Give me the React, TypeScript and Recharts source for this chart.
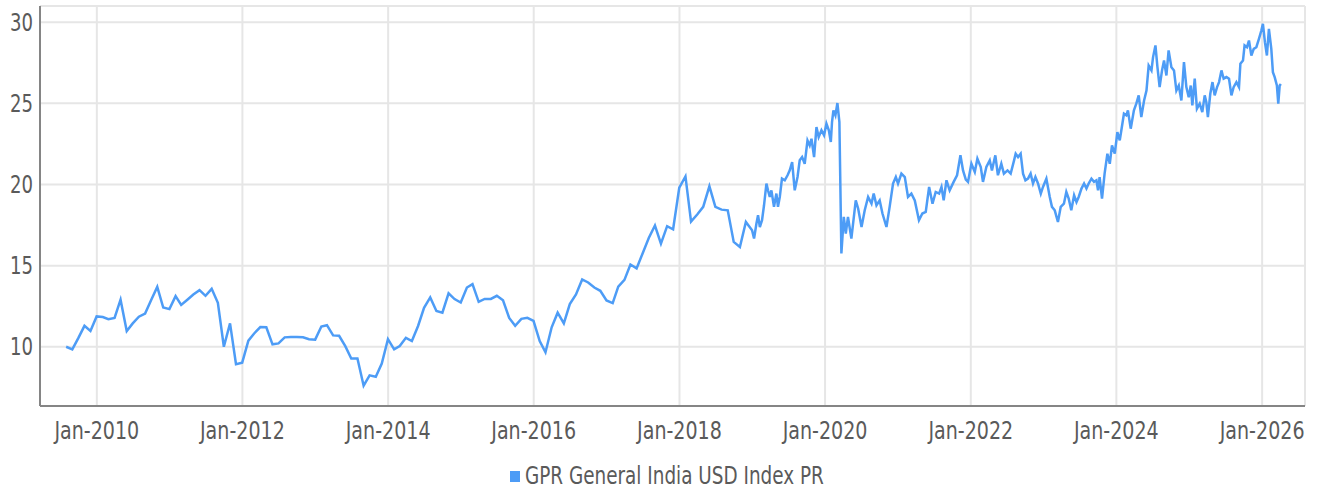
import React from "react";
import { LineChart, Line, XAxis, YAxis, CartesianGrid, Legend } from "recharts";

const SERIES_NAME = "GPR General India USD Index PR";

const monthlyDates = [
  "2009-07", "2009-08", "2009-09", "2009-10", "2009-11", "2009-12",
  "2010-01", "2010-02", "2010-03", "2010-04", "2010-05", "2010-06", "2010-07", "2010-08", "2010-09", "2010-10", "2010-11", "2010-12",
  "2011-01", "2011-02", "2011-03", "2011-04", "2011-05", "2011-06", "2011-07", "2011-08", "2011-09", "2011-10", "2011-11", "2011-12",
  "2012-01", "2012-02", "2012-03", "2012-04", "2012-05", "2012-06", "2012-07", "2012-08", "2012-09", "2012-10", "2012-11", "2012-12",
  "2013-01", "2013-02", "2013-03", "2013-04", "2013-05", "2013-06", "2013-07", "2013-08", "2013-09", "2013-10", "2013-11", "2013-12",
  "2014-01", "2014-02", "2014-03", "2014-04", "2014-05", "2014-06", "2014-07", "2014-08", "2014-09", "2014-10", "2014-11", "2014-12",
  "2015-01", "2015-02", "2015-03", "2015-04", "2015-05", "2015-06", "2015-07", "2015-08", "2015-09", "2015-10", "2015-11", "2015-12",
  "2016-01", "2016-02", "2016-03", "2016-04", "2016-05", "2016-06", "2016-07", "2016-08", "2016-09", "2016-10", "2016-11", "2016-12",
  "2017-01", "2017-02", "2017-03", "2017-04", "2017-05", "2017-06", "2017-07", "2017-08", "2017-09", "2017-10", "2017-11", "2017-12",
  "2018-01", "2018-02", "2018-03", "2018-04", "2018-05", "2018-06", "2018-07", "2018-08", "2018-09", "2018-10", "2018-11", "2018-12",
];

const monthlyValues = [
  10.0, 9.84, 10.53, 11.29, 10.97, 11.87,
  11.83, 11.7, 11.78, 12.9, 10.97, 11.44, 11.85, 12.05, 12.87, 13.69, 12.42, 12.32,
  13.12, 12.58, 12.9, 13.22, 13.49, 13.14, 13.57, 12.71, 10.0, 11.44, 8.93, 9.02,
  10.38, 10.82, 11.21, 11.2, 10.15, 10.21, 10.58, 10.6, 10.6, 10.58, 10.46, 10.44,
  11.25, 11.33, 10.7, 10.68, 10.04, 9.28, 9.28, 7.6, 8.24, 8.15, 8.97, 10.47,
  9.84, 10.04, 10.55, 10.35, 11.28, 12.4, 13.04, 12.2, 12.1, 13.29, 12.94, 12.73,
  13.65, 13.86, 12.77, 12.95, 12.95, 13.14, 12.86, 11.78, 11.29, 11.72, 11.78, 11.6,
  10.35, 9.66, 11.2, 12.1, 11.44, 12.63, 13.22, 14.15, 13.96, 13.65, 13.45, 12.85,
  12.69, 13.71, 14.12, 15.07, 14.83, 15.75, 16.7, 17.47, 16.36, 17.43, 17.24, 19.81,
  20.5, 17.71, 18.15, 18.62, 19.89, 18.62, 18.45, 18.41, 16.46, 16.15, 17.69, 17.18,
];

const dailyDates = [
  "2019-01-10", "2019-01-22", "2019-01-30", "2019-02-08", "2019-02-19", "2019-03-01", "2019-03-13", "2019-03-21",
  "2019-03-30", "2019-04-07", "2019-04-20", "2019-05-02", "2019-05-10", "2019-05-19", "2019-05-30", "2019-06-13",
  "2019-06-27", "2019-07-08", "2019-07-20", "2019-08-02", "2019-08-16", "2019-08-27", "2019-09-08", "2019-09-21",
  "2019-10-05", "2019-10-16", "2019-10-25", "2019-11-07", "2019-11-19", "2019-11-30", "2019-12-14", "2019-12-27",
  "2020-01-08", "2020-01-20", "2020-01-30", "2020-02-05", "2020-02-12", "2020-02-22", "2020-03-03", "2020-03-13",
  "2020-03-23", "2020-04-04", "2020-04-14", "2020-04-25", "2020-05-12", "2020-06-03", "2020-06-15", "2020-07-02",
  "2020-07-18", "2020-08-04", "2020-08-21", "2020-09-01", "2020-09-15", "2020-10-01", "2020-10-15", "2020-11-04",
  "2020-11-20", "2020-12-07", "2020-12-21",
  "2021-01-01", "2021-01-18", "2021-02-04", "2021-02-20", "2021-03-09", "2021-03-26", "2021-04-16", "2021-05-03",
  "2021-05-20", "2021-06-06", "2021-06-23", "2021-07-09", "2021-07-26", "2021-08-07", "2021-08-18", "2021-09-01",
  "2021-09-17", "2021-10-07", "2021-10-24", "2021-11-10", "2021-11-23", "2021-12-07", "2021-12-18",
  "2022-01-04", "2022-01-21", "2022-02-03", "2022-02-20", "2022-03-03", "2022-03-20", "2022-04-06", "2022-04-17",
  "2022-05-04", "2022-05-17", "2022-06-03", "2022-06-16", "2022-07-04", "2022-07-20", "2022-08-06", "2022-08-14",
  "2022-08-26", "2022-09-08", "2022-09-20", "2022-10-02", "2022-10-15", "2022-10-28", "2022-11-09", "2022-11-21",
  "2022-12-04", "2022-12-18", "2022-12-29",
  "2023-01-15", "2023-02-01", "2023-02-12", "2023-02-26", "2023-03-14", "2023-03-28", "2023-04-13", "2023-04-25",
  "2023-05-07", "2023-05-20", "2023-06-03", "2023-06-15", "2023-06-26", "2023-07-10", "2023-07-23", "2023-08-04",
  "2023-08-15", "2023-08-29", "2023-09-11", "2023-09-23", "2023-10-01", "2023-10-09", "2023-10-21", "2023-11-03",
  "2023-11-17", "2023-11-29", "2023-12-10", "2023-12-24",
  "2024-01-06", "2024-01-18", "2024-01-26", "2024-02-08", "2024-02-20", "2024-02-28", "2024-03-13", "2024-03-29",
  "2024-04-10", "2024-04-22", "2024-05-05", "2024-05-19", "2024-05-31", "2024-06-11", "2024-06-25", "2024-07-03",
  "2024-07-15", "2024-07-25", "2024-08-05", "2024-08-17", "2024-08-27", "2024-09-08", "2024-09-19", "2024-10-03",
  "2024-10-16", "2024-10-28", "2024-11-09", "2024-11-22", "2024-12-05", "2024-12-17", "2024-12-29",
  "2025-01-08", "2025-01-16", "2025-01-28", "2025-02-08", "2025-02-22", "2025-03-07", "2025-03-19", "2025-03-27",
  "2025-04-04", "2025-04-16", "2025-04-27", "2025-05-08", "2025-05-20", "2025-05-30", "2025-06-11", "2025-06-22",
  "2025-07-06", "2025-07-19", "2025-07-31", "2025-08-11", "2025-08-25", "2025-09-07", "2025-09-14", "2025-09-27",
  "2025-10-05", "2025-10-17", "2025-10-27", "2025-11-08", "2025-11-20", "2025-12-03", "2025-12-16", "2025-12-28",
  "2026-01-05", "2026-01-15", "2026-01-25", "2026-02-04", "2026-02-16", "2026-02-24", "2026-03-05", "2026-03-16",
  "2026-03-23", "2026-03-30", "2026-04-05",
];

const dailyValues = [
  16.67, 17.6, 18.11, 17.38, 17.8, 18.72, 20.06, 19.64,
  19.23, 19.64, 18.62, 19.44, 18.62, 19.23, 20.36, 20.26,
  20.57, 20.87, 21.38, 19.64, 20.46, 21.49, 21.69, 21.28,
  22.72, 22.41, 22.82, 21.69, 23.54, 22.92, 23.34, 23.03,
  23.75, 23.34, 22.62, 23.85, 24.57, 24.26, 25.02, 23.85,
  15.75, 18.0, 16.98, 18.0, 16.67, 19.02, 18.52, 17.38,
  18.41, 19.23, 18.82, 19.44, 18.72, 19.02, 18.21, 17.38,
  18.62, 20.06, 20.46,
  20.06, 20.67, 20.46, 19.23, 19.44, 19.02, 17.8, 18.21,
  18.31, 19.85, 18.82, 19.54, 19.44, 19.85, 19.02, 20.26,
  19.64, 20.16, 20.57, 21.8, 20.87, 20.3, 20.16,
  21.28, 20.77, 21.59, 21.08, 20.16, 21.08, 21.49, 20.87,
  21.8, 20.57, 21.28, 20.67, 20.87, 20.67, 21.49, 21.9,
  21.69, 21.9, 20.67, 20.26, 20.36, 20.67, 20.06, 20.46,
  20.06, 19.44, 19.85,
  20.36, 19.23, 18.62, 18.41, 17.69, 18.62, 18.82, 19.54,
  19.13, 18.41, 19.33, 18.92, 19.23, 19.75, 20.06, 19.75,
  20.06, 20.36, 20.16, 20.26, 19.64, 20.46, 19.13, 20.67,
  21.9, 21.28, 22.41, 21.9,
  23.23, 22.72, 23.34, 24.36, 24.26, 24.57, 23.44, 24.57,
  24.98, 25.49, 24.15, 25.18, 25.79, 27.33, 27.03, 27.85,
  28.57, 27.23, 26.0, 27.03, 27.64, 26.72, 28.26, 27.23,
  27.03, 25.79, 26.1, 25.18, 27.54, 26.0, 25.38,
  26.1, 24.87, 26.52, 24.67, 24.98, 24.46, 25.49, 25.08,
  24.15, 25.59, 26.31, 25.49, 26.0, 26.31, 27.03, 26.52,
  26.62, 26.52, 25.49, 26.0, 26.31, 26.0, 27.44, 27.64,
  28.57, 28.46, 28.87, 27.95, 28.36, 28.46, 28.98, 29.49,
  29.9, 28.77, 27.95, 29.59, 28.36, 26.92, 26.62, 26.1,
  24.98, 26.1, 26.2,
];

const tickYears = [2010, 2012, 2014, 2016, 2018, 2020, 2022, 2024, 2026];
const yTicks = [10, 15, 20, 25, 30];

const monthEnd = (s: string) => {
  const [y, m] = s.split("-").map(Number);
  return Date.UTC(y, m, 0);
};
const dayTs = (s: string) => {
  const [y, m, d] = s.split("-").map(Number);
  return Date.UTC(y, m - 1, d);
};

const data = [
  ...monthlyDates.map((d, i) => ({ t: monthEnd(d), v: monthlyValues[i] })),
  ...dailyDates.map((d, i) => ({ t: dayTs(d), v: dailyValues[i] })),
];

const xTicks = tickYears.map((y) => Date.UTC(y, 0, 1));
const xDomain = [Date.UTC(2009, 2, 22), Date.UTC(2026, 7, 4)];

const FONT = "'Liberation Sans Narrow', 'DejaVu Sans Condensed', 'Roboto', sans-serif";
const BLUE = "#4d9cf6";
const TEXT = "#5a5a5a";

const fmtX = (t: number) => `Jan-${new Date(t).getUTCFullYear()}`;

const XTick = (props: any) => {
  const { x, y, payload } = props;
  const label = fmtX(payload.value);
  return (
    <text
      x={x}
      y={y}
      dy="0.71em"
      textAnchor="middle"
      fill={TEXT}
      fontSize={24}
      fontFamily={FONT}
      textLength={label.length * 10.6}
      lengthAdjust="spacingAndGlyphs"
    >
      {label}
    </text>
  );
};

const YTick = (props: any) => {
  const { x, y, payload } = props;
  const label = String(payload.value);
  return (
    <text
      x={x}
      y={y}
      dy="0.355em"
      textAnchor="end"
      fill={TEXT}
      fontSize={24}
      fontFamily={FONT}
      textLength={label.length * 11.5}
      lengthAdjust="spacingAndGlyphs"
    >
      {label}
    </text>
  );
};

const LegendContent = () => (
  <div
    style={{
      height: 30,
      width: 1317,
      display: "flex",
      alignItems: "center",
      paddingLeft: 510,
      boxSizing: "border-box",
      fontFamily: FONT,
      fontSize: 24,
      color: TEXT,
    }}
  >
    <span style={{ display: "inline-block", width: 10, height: 11, background: BLUE, marginRight: 5 }} />
    <span style={{ display: "inline-block", transform: "scaleX(0.852)", transformOrigin: "left center", whiteSpace: "nowrap" }}>
      {SERIES_NAME}
    </span>
  </div>
);

export default function App() {
  return (
    <div style={{ position: "absolute", left: 0, top: 0, width: 1317, height: 491, background: "#fff" }}>
      <LineChart width={1317} height={491} data={data} margin={{ top: 6, right: 12, bottom: 0, left: 0 }}>
        <CartesianGrid stroke="#e6e6e6" strokeWidth={2} />
        <XAxis
          dataKey="t"
          type="number"
          scale="time"
          domain={xDomain}
          ticks={xTicks}
          tickFormatter={fmtX}
          allowDataOverflow
          height={55}
          tickLine={false}
          tickSize={0}
          tickMargin={16}
          axisLine={{ stroke: "#858585", strokeWidth: 2 }}
          tick={<XTick />}
        />
        <YAxis
          type="number"
          domain={[6.35, 31]}
          ticks={yTicks}
          allowDataOverflow
          width={40}
          tickLine={false}
          tickSize={0}
          tickMargin={7}
          axisLine={{ stroke: "#858585", strokeWidth: 2 }}
          tick={<YTick />}
        />
        <Legend verticalAlign="bottom" align="left" content={<LegendContent />} wrapperStyle={{ left: 0, bottom: 0, width: 1317 }} />
        <Line
          type="linear"
          dataKey="v"
          name={SERIES_NAME}
          stroke={BLUE}
          strokeWidth={2.5}
          dot={false}
          isAnimationActive={false}
        />
      </LineChart>
    </div>
  );
}
